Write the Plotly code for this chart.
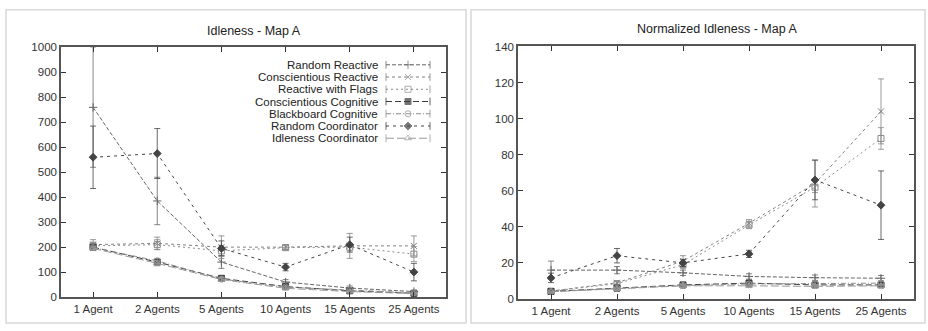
import plotly.graph_objects as go

categories = ["1 Agent", "2 Agents", "5 Agents", "10 Agents", "15 Agents", "25 Agents"]
series_names = ["Random Reactive", "Conscientious Reactive", "Reactive with Flags",
                "Conscientious Cognitive", "Blackboard Cognitive",
                "Random Coordinator", "Idleness Coordinator"]

# Idleness - Map A
idl_random_reactive = [760, 385, 140, 60, 36, 22]
idl_conscientious_reactive = [210, 215, 200, 200, 205, 205]
idl_reactive_flags = [205, 210, 185, 198, 200, 172]
idl_conscientious_cognitive = [200, 140, 75, 42, 25, 15]
idl_blackboard_cognitive = [198, 145, 72, 40, 28, 17]
idl_random_coordinator = [560, 575, 195, 120, 210, 100]
idl_idleness_coordinator = [195, 135, 70, 35, 22, 14]

idl_err_random_reactive = [240, 95, 25, 10, 8, 5]
idl_err_conscientious_reactive = [20, 25, 45, 10, 50, 40]
idl_err_reactive_flags = [15, 20, 20, 10, 15, 30]
idl_err_conscientious_cognitive = [5, 10, 8, 6, 4, 3]
idl_err_blackboard_cognitive = [5, 10, 8, 6, 4, 3]
idl_err_random_coordinator = [125, 100, 30, 15, 30, 35]
idl_err_idleness_coordinator = [5, 10, 8, 6, 4, 3]

# Normalized Idleness - Map A
nrm_random_reactive = [16, 16, 14.5, 12.5, 11.8, 11.5]
nrm_conscientious_reactive = [4.4, 9, 21, 42, 64, 104]
nrm_reactive_flags = [4.3, 8.5, 19, 41, 62, 89]
nrm_conscientious_cognitive = [4.2, 6, 7.8, 8.8, 7.8, 7.8]
nrm_blackboard_cognitive = [4.1, 6, 7.5, 8.3, 8.5, 8.8]
nrm_random_coordinator = [11.7, 24, 20, 25, 66, 52]
nrm_idleness_coordinator = [4, 5.6, 7.3, 7.3, 7, 7.3]

nrm_err_random_reactive = [5, 2, 1.5, 1.5, 1.5, 1.5]
nrm_err_conscientious_reactive = [0.5, 1, 3, 2, 13, 18]
nrm_err_reactive_flags = [0.5, 1, 2, 2, 3, 6]
nrm_err_conscientious_cognitive = [0.3, 0.6, 0.8, 1, 1, 1]
nrm_err_blackboard_cognitive = [0.3, 0.6, 0.8, 1, 1, 1]
nrm_err_random_coordinator = [2.6, 4, 2, 2, 11, 19]
nrm_err_idleness_coordinator = [0.3, 0.6, 0.8, 1, 1, 1]

idl_values = [idl_random_reactive, idl_conscientious_reactive, idl_reactive_flags,
              idl_conscientious_cognitive, idl_blackboard_cognitive,
              idl_random_coordinator, idl_idleness_coordinator]
idl_errors = [idl_err_random_reactive, idl_err_conscientious_reactive, idl_err_reactive_flags,
              idl_err_conscientious_cognitive, idl_err_blackboard_cognitive,
              idl_err_random_coordinator, idl_err_idleness_coordinator]
nrm_values = [nrm_random_reactive, nrm_conscientious_reactive, nrm_reactive_flags,
              nrm_conscientious_cognitive, nrm_blackboard_cognitive,
              nrm_random_coordinator, nrm_idleness_coordinator]
nrm_errors = [nrm_err_random_reactive, nrm_err_conscientious_reactive, nrm_err_reactive_flags,
              nrm_err_conscientious_cognitive, nrm_err_blackboard_cognitive,
              nrm_err_random_coordinator, nrm_err_idleness_coordinator]

colors = ["#666666", "#808080", "#8a8a8a", "#3a3a3a", "#8c8c8c", "#444444", "#999999"]
dashes = ["4px,2px", "3px,3px", "2px,3px", "6px,3px", "5px,2px,1px,2px", "3px,4px", "8px,3px"]
symbols = ["cross-thin-open", "x-thin-open", "square-open", "square", "circle-open", "diamond", "triangle-up-open"]

W, H = 928, 331
L_plot = (61, 446, 43, 302)
R_plot = (518, 914, 42, 304)
FONT = "Liberation Sans, Arial"

def xd(p):
    return [p[0] / W, p[1] / W]

def yd(p):
    return [1 - p[3] / H, 1 - p[2] / H]

fig = go.Figure()

for i, name in enumerate(series_names):
    fig.add_trace(go.Scatter(
        x=categories, y=idl_values[i], name=name, mode="lines+markers",
        line=dict(color=colors[i], width=1, dash=dashes[i]),
        marker=dict(symbol=symbols[i], size=6, color=colors[i], line=dict(color=colors[i], width=1)),
        error_y=dict(type="data", array=idl_errors[i], color=colors[i], thickness=0.8, width=3),
        xaxis="x", yaxis="y", showlegend=False))
for i, name in enumerate(series_names):
    fig.add_trace(go.Scatter(
        x=categories, y=nrm_values[i], name=name, mode="lines+markers",
        line=dict(color=colors[i], width=1, dash=dashes[i]),
        marker=dict(symbol=symbols[i], size=6, color=colors[i], line=dict(color=colors[i], width=1)),
        error_y=dict(type="data", array=nrm_errors[i], color=colors[i], thickness=0.8, width=3),
        xaxis="x2", yaxis="y2", showlegend=False))

# gnuplot-style key (text right-aligned, sample on the right) drawn on a page-pixel overlay axis
KEY_TEXT_X, KEY_S0, KEY_S1, KEY_Y0, KEY_DY = 380, 386, 430, 61, 12.7
annotations = []
shapes = []
for i, name in enumerate(series_names):
    yy = KEY_Y0 + KEY_DY * i
    fig.add_trace(go.Scatter(
        x=[KEY_S0, (KEY_S0 + KEY_S1) / 2, KEY_S1], y=[yy, yy, yy], mode="lines+markers",
        line=dict(color=colors[i], width=1, dash=dashes[i]),
        marker=dict(symbol=symbols[i], size=[0, 6, 0], color=colors[i], line=dict(color=colors[i], width=1)),
        xaxis="x3", yaxis="y3", showlegend=False, hoverinfo="skip"))
    annotations.append(dict(text=name, x=KEY_TEXT_X, y=yy, xref="x3", yref="y3", showarrow=False,
                            xanchor="right", yanchor="middle",
                            font=dict(family=FONT, size=11.5, color="#222222")))
    for xe in (KEY_S0, KEY_S1):
        shapes.append(dict(type="line", xref="x3", yref="y3", x0=xe, x1=xe, y0=yy - 4, y1=yy + 4,
                           line=dict(color=colors[i], width=0.8)))

axis_common = dict(showline=True, mirror="allticks", linecolor="#555555", linewidth=1.5,
                   ticks="inside", ticklen=5, tickwidth=1.2, tickcolor="#333333",
                   showgrid=False, zeroline=False,
                   tickfont=dict(family=FONT, size=11.5, color="#333333"))

annotations += [
    dict(text="Idleness - Map A", x=254 / W, y=1 - 26 / H, xref="paper", yref="paper",
         showarrow=False, font=dict(family=FONT, size=12.5, color="#222222"), xanchor="center", yanchor="middle"),
    dict(text="Normalized Idleness - Map A", x=717 / W, y=1 - 24 / H, xref="paper", yref="paper",
         showarrow=False, font=dict(family=FONT, size=12.5, color="#222222"), xanchor="center", yanchor="middle"),
]
shapes += [
    dict(type="rect", xref="paper", yref="paper", x0=6 / W, x1=466 / W, y0=1 - 329 / H, y1=1 - 4 / H,
         line=dict(color="#d8d8d8", width=1.5), layer="below"),
    dict(type="rect", xref="paper", yref="paper", x0=471 / W, x1=925 / W, y0=1 - 329 / H, y1=1 - 4 / H,
         line=dict(color="#d8d8d8", width=1.5), layer="below"),
]

fig.update_layout(
    width=W, height=H,
    margin=dict(l=0, r=0, t=0, b=0),
    paper_bgcolor="white", plot_bgcolor="rgba(0,0,0,0)",
    font=dict(family=FONT, size=11, color="#333333"),
    xaxis=dict(domain=xd(L_plot), anchor="y", type="category", range=[-0.5, 5.5], **axis_common),
    yaxis=dict(domain=yd(L_plot), anchor="x", range=[0, 1000], dtick=100, **axis_common),
    xaxis2=dict(domain=xd(R_plot), anchor="y2", type="category", range=[-0.5, 5.5], **axis_common),
    yaxis2=dict(domain=yd(R_plot), anchor="x2", range=[0, 140], dtick=20, **axis_common),
    xaxis3=dict(domain=[0, 1], anchor="y3", range=[0, W], visible=False, fixedrange=True),
    yaxis3=dict(domain=[0, 1], anchor="x3", range=[H, 0], visible=False, fixedrange=True),
    showlegend=False,
    annotations=annotations,
    shapes=shapes,
)

fig.write_html("out.html")
